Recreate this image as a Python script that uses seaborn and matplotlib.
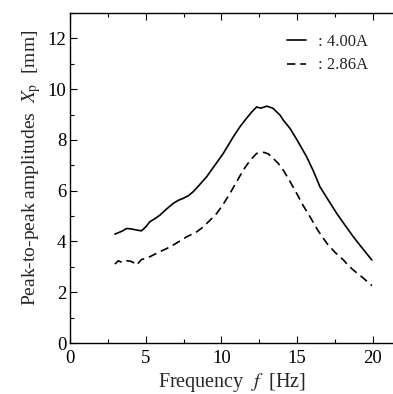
import numpy as np
import pandas as pd
import seaborn as sns
import matplotlib
matplotlib.use("Agg")
import matplotlib.pyplot as plt
from matplotlib.ticker import MultipleLocator

# 4.00 A curve
f_400 = [2.95, 3.4, 3.72, 4.0, 4.38, 4.71, 5.0, 5.26, 5.6, 5.93, 6.37, 6.81, 7.14, 7.47, 7.8,
         8.13, 8.5, 9.02, 9.5, 10.12, 10.78, 11.2, 11.56, 12.0, 12.33, 12.6, 13.0, 13.4, 13.87,
         14.09, 14.54, 15.0, 15.64, 16.1, 16.52, 17.1, 17.63, 18.2, 18.73, 19.3, 19.95]
xp_400 = [4.29, 4.40, 4.51, 4.50, 4.45, 4.42, 4.58, 4.78, 4.90, 5.04, 5.28, 5.50, 5.62, 5.70, 5.80,
          5.96, 6.20, 6.55, 6.95, 7.47, 8.12, 8.50, 8.78, 9.10, 9.30, 9.25, 9.33, 9.25, 8.98,
          8.78, 8.45, 8.00, 7.33, 6.75, 6.15, 5.60, 5.10, 4.62, 4.18, 3.75, 3.27]

# 2.86 A curve
f_286 = [2.95, 3.17, 3.39, 3.72, 4.0, 4.2, 4.38, 4.71, 5.0, 5.26, 5.6, 5.93, 6.37, 6.81, 7.25,
         7.69, 8.0, 8.36, 8.7, 9.02, 9.35, 9.68, 10.1, 10.56, 11.0, 11.44, 11.9, 12.33, 12.81,
         13.1, 13.43, 13.75, 14.09, 14.5, 14.98, 15.4, 15.86, 16.4, 16.97, 17.5, 18.07, 18.4,
         18.73, 19.3, 19.95]
xp_286 = [3.11, 3.24, 3.18, 3.24, 3.22, 3.16, 3.07, 3.29, 3.33, 3.40, 3.50, 3.60, 3.72, 3.86, 4.02,
          4.18, 4.27, 4.38, 4.53, 4.71, 4.90, 5.10, 5.45, 5.89, 6.35, 6.81, 7.20, 7.47, 7.51,
          7.45, 7.27, 7.08, 6.81, 6.40, 5.89, 5.42, 4.97, 4.42, 3.93, 3.58, 3.27, 3.05,
          2.87, 2.60, 2.26]

labels = [": 4.00A", ": 2.86A"]

df = pd.concat([
    pd.DataFrame({"f": f_400, "xp": xp_400, "current": labels[0]}),
    pd.DataFrame({"f": f_286, "xp": xp_286, "current": labels[1]}),
])

sns.set_style("ticks")
plt.rcParams["font.family"] = ["Liberation Serif", "DejaVu Serif"]
plt.rcParams["mathtext.fontset"] = "stix"

fig = plt.figure(figsize=(3.93, 3.94), dpi=100)
ax = fig.add_axes([0.179, 0.1294, 0.821, 0.8376])

sns.lineplot(data=df, x="f", y="xp", hue="current", style="current",
             palette=["black", "black"], dashes=[(None, None), (5, 3)],
             linewidth=1.2, sort=False, ax=ax)

ax.set_xlim(0, 21.35)
ax.set_ylim(0, 13)
ax.xaxis.set_major_locator(MultipleLocator(5))
ax.xaxis.set_minor_locator(MultipleLocator(2.5))
ax.yaxis.set_major_locator(MultipleLocator(2))
ax.yaxis.set_minor_locator(MultipleLocator(1))
ax.tick_params(which="both", direction="in", top=True, right=False, labelsize=13.5,
               width=0.8, colors="black")
ax.tick_params(which="major", length=5)
ax.tick_params(which="minor", length=3)
ax.tick_params(axis="x", which="major", pad=5)
ax.tick_params(axis="y", which="major", pad=3)
for s in ["left", "bottom", "top"]:
    ax.spines[s].set_linewidth(1.0)
    ax.spines[s].set_color("black")
ax.spines["right"].set_visible(False)

ax.set_xlabel(r"Frequency  $f$  [Hz]", fontsize=14.5, labelpad=3)
ax.set_ylabel(r"Peak-to-peak amplitudes  $X_\mathrm{p}$  [mm]", fontsize=14, labelpad=3)
ax.yaxis.set_label_coords(-0.085, 0.53)

ax.legend(frameon=False, loc="upper right", bbox_to_anchor=(0.968, 0.982), fontsize=12,
          handlelength=1.15, handletextpad=0.7, labelspacing=0.45)

fig.savefig("out.png", dpi=100)
